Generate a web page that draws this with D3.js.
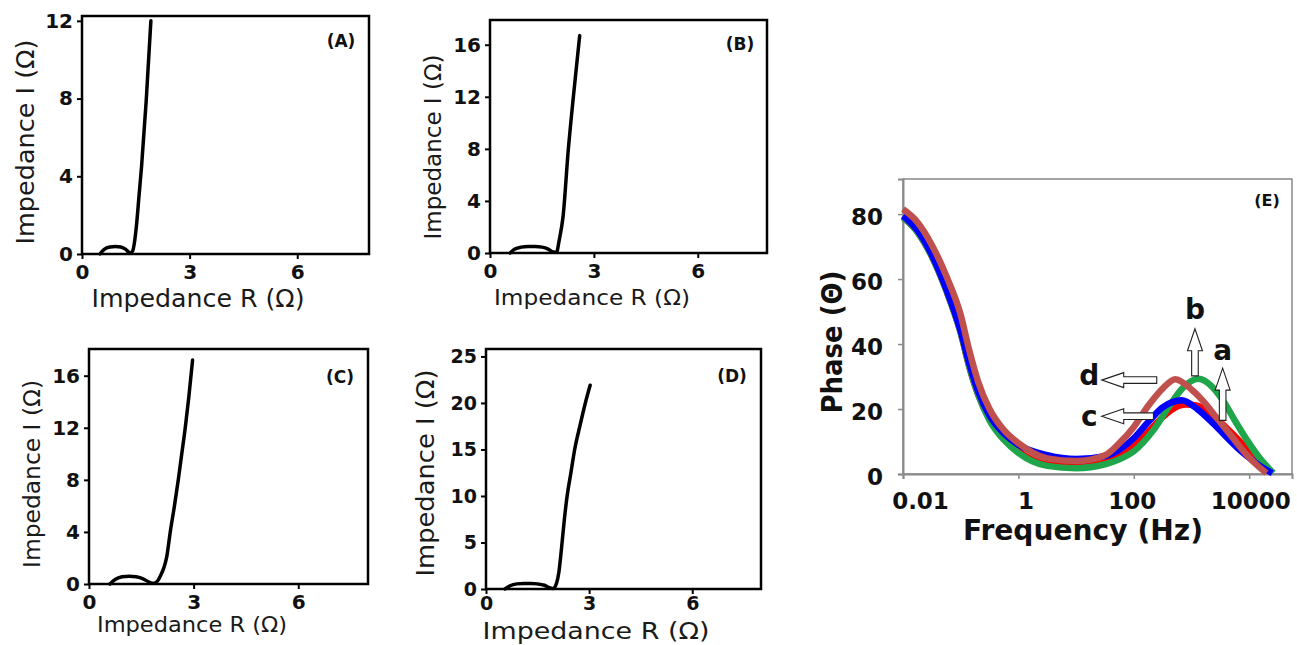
<!DOCTYPE html>
<html><head><meta charset="utf-8">
<script src="https://cdn.jsdelivr.net/npm/d3@7"></script>
<style>html,body{margin:0;padding:0;background:#fff;} svg{display:block;}</style>
</head><body>
<svg id="chart" width="1297" height="645"></svg>
<script>
// ---------------- DATA ----------------
// Nyquist panels: real part R (Ω) and imaginary part I (Ω)
const nyqA_R = [0.5, 0.62, 0.78, 0.93, 1.08, 1.22, 1.34, 1.41, 1.47, 1.52, 1.59, 1.66, 1.79, 1.92];
const nyqA_I = [0, 0.24, 0.36, 0.39, 0.36, 0.24, 0.05, 0.15, 0.7, 1.5, 3.0, 4.5, 7.9, 12.0];

const nyqB_R = [0.58, 0.72, 0.9, 1.1, 1.3, 1.5, 1.68, 1.82, 1.92, 2.0, 2.11, 2.26, 2.4, 2.59];
const nyqB_I = [0, 0.3, 0.45, 0.5, 0.5, 0.45, 0.3, 0.08, 0.05, 1.0, 2.8, 7.9, 11.8, 16.7];

const nyqC_R = [0.6, 0.75, 0.95, 1.15, 1.35, 1.55, 1.72, 1.85, 1.97, 2.06, 2.14, 2.23, 2.33, 2.45, 2.56, 2.66, 2.76, 2.86, 2.97];
const nyqC_I = [0, 0.35, 0.55, 0.6, 0.55, 0.4, 0.15, 0.05, 0.25, 0.7, 1.2, 2.1, 4.0, 6.0, 8.0, 10.0, 12.0, 14.3, 17.2];

const nyqD_R = [0.55, 0.7, 0.9, 1.1, 1.3, 1.5, 1.7, 1.85, 1.95, 2.05, 2.12, 2.2, 2.28, 2.36, 2.47, 2.58, 2.73, 2.89, 3.03];
const nyqD_I = [0, 0.35, 0.55, 0.6, 0.6, 0.55, 0.4, 0.15, 0.05, 0.6, 1.8, 4.5, 7.5, 10, 12.5, 15, 17.5, 20, 21.9];

const nyqTicksX = [0, 3, 6];
const ticksA_I = [0, 4, 8, 12];
const ticksB_I = [0, 4, 8, 12, 16];
const ticksC_I = [0, 4, 8, 12, 16];
const ticksD_I = [0, 5, 10, 15, 20, 25];

// Bode phase panel (E): frequency (Hz) and phase (Θ) for series a, b, c, d
const freqA  = [0.01, 0.0178, 0.0316, 0.0562, 0.1, 0.141, 0.2, 0.316, 0.562, 1, 3.16, 10, 31.6, 56.2, 100, 178, 316, 501, 794, 1259, 2399, 3981, 6310, 10000, 15849, 25119];
const phaseA = [79, 74.5, 67, 56.5, 43.5, 33, 24.5, 17, 11, 7, 3, 2.3, 3.6, 5.3, 8.5, 13, 17.5, 20.3, 21.4, 21, 17.8, 14.3, 10.8, 7, 3.3, 0.3];

const freqB  = [0.01, 0.0178, 0.0316, 0.0562, 0.1, 0.141, 0.2, 0.316, 0.562, 1, 3.16, 10, 31.6, 56.2, 100, 219, 398, 708, 1318, 2239, 3548, 5623, 9120, 15849, 26303];
const phaseB = [79, 74.5, 67, 56.5, 43.5, 33, 24.5, 16.5, 10.5, 6.5, 2.5, 1.8, 3.0, 4.5, 7, 13.5, 20.5, 26.5, 29.3, 27, 22.5, 16.5, 10.5, 4.5, 0.3];

const freqC  = [0.01, 0.0178, 0.0316, 0.0562, 0.1, 0.141, 0.2, 0.316, 0.562, 1, 3.16, 10, 31.6, 56.2, 100, 178, 316, 676, 1259, 2399, 3981, 6310, 10000, 15849, 25119];
const phaseC = [79.5, 75, 67.5, 57, 44, 34, 25.5, 18, 12.5, 9, 5.8, 4.6, 5.5, 7.5, 11, 16, 20.5, 22.7, 20, 15.5, 11.5, 8, 5, 2.3, 0.3];

const freqD  = [0.01, 0.0178, 0.0316, 0.0562, 0.1, 0.141, 0.2, 0.316, 0.562, 1, 3.16, 10, 31.6, 56.2, 100, 178, 316, 525, 1000, 1585, 2818, 5012, 8913, 14125, 19953];
const phaseD = [81.5, 77.5, 70.5, 61, 49, 38, 28.5, 20, 13.5, 9.5, 4.8, 4.0, 5.8, 9.5, 14.5, 21, 26.3, 29.2, 26, 22.5, 17, 11.5, 6, 2.5, 0.3];

const seriesNames = ["a", "b", "c", "d"];
const freqTicks = [0.01, 1, 100, 10000];
const freqTickLabels = ["0.01", "1", "100", "10000"];
const phaseTicks = [0, 20, 40, 60, 80];

// annotation arrows (data coordinates: frequency Hz, phase)
const arrowTips  = [[3467, 32.6], [1148, 44.7], [27.8, 17.8], [27.8, 28.9]];
const arrowTails = [[3467, 16.5], [1148, 30.2], [219, 17.8], [250, 28.9]];
const labelPos   = [[3467, 37.9], [1148, 50.6], [17, 17.5], [17, 30.2]];

// ---------------- DRAW ----------------
const svg = d3.select("#chart");
const FONT = "'DejaVu Sans', 'Liberation Sans', sans-serif";

function addText(txt, x, y, size, opts = {}) {
  const t = svg.append("text")
    .text(txt)
    .attr("font-family", FONT)
    .attr("font-size", size)
    .attr("font-weight", opts.bold ? "bold" : "normal")
    .attr("fill", opts.fill || "#111")
    .attr("text-anchor", opts.anchor || "middle");
  if (opts.rotate) {
    t.attr("transform", `translate(${x},${y}) rotate(-90)`).attr("dy", "0.35em");
  } else {
    t.attr("x", x).attr("y", y);
  }
  if (opts.len) t.attr("textLength", opts.len).attr("lengthAdjust", "spacingAndGlyphs");
  return t;
}

const nyqLayout = [
  {R: nyqA_R, I: nyqA_I, ticks: ticksA_I, yMax: 12.25, box: [82, 16, 369, 254], tag: "(A)", tagPos: [341, 47],
   xt: [198, 307, 24, 213], yt: [25, 142, 25, 205], tf: 20, tp: 6},
  {R: nyqB_R, I: nyqB_I, ticks: ticksB_I, yMax: 17.9, box: [490, 20, 767, 253], tag: "(B)", tagPos: [740, 50],
   xt: [592, 305, 22, 196], yt: [433, 147, 23, 185], tf: 20, tp: 6},
  {R: nyqC_R, I: nyqC_I, ticks: ticksC_I, yMax: 18.05, box: [89, 349, 368, 584], tag: "(C)", tagPos: [340, 383],
   xt: [192, 632, 22, 190], yt: [32, 474, 23, 188], tf: 20, tp: 6},
  {R: nyqD_R, I: nyqD_I, ticks: ticksD_I, yMax: 25.8, box: [486, 349, 761, 589], tag: "(D)", tagPos: [732, 382],
   xt: [596, 639, 23, 227], yt: [425, 473, 25, 207], tf: 19, tp: 3}
];

nyqLayout.forEach(p => {
  const [x0, y0, x1, y1] = p.box;
  const x = d3.scaleLinear().domain([0, 8]).range([x0, x1]);
  const y = d3.scaleLinear().domain([0, p.yMax]).range([y1, y0]);
  const g = svg.append("g");
  const ax = g.append("g").attr("transform", `translate(0,${y1})`)
    .call(d3.axisBottom(x).tickValues(nyqTicksX).tickSize(5).tickPadding(p.tp).tickFormat(d3.format("d")));
  const ay = g.append("g").attr("transform", `translate(${x0},0)`)
    .call(d3.axisLeft(y).tickValues(p.ticks).tickSize(5).tickPadding(4).tickFormat(d3.format("d")));
  [ax, ay].forEach(a => {
    a.select(".domain").remove();
    a.selectAll("line").attr("stroke", "#000").attr("stroke-width", 2);
    a.selectAll("text").attr("font-family", FONT).attr("font-weight", "bold")
      .attr("font-size", p.tf).attr("fill", "#111");
  });
  const pts = p.R.map((r, i) => [r, p.I[i]]);
  g.append("path").datum(pts)
    .attr("d", d3.line().x(d => x(d[0])).y(d => y(d[1])).curve(d3.curveMonotoneX))
    .attr("fill", "none").attr("stroke", "#000").attr("stroke-width", 3.5)
    .attr("stroke-linejoin", "round").attr("stroke-linecap", "round");
  g.append("rect").attr("x", x0).attr("y", y0).attr("width", x1 - x0).attr("height", y1 - y0)
    .attr("fill", "none").attr("stroke", "#000").attr("stroke-width", 2.5);
  addText(p.tag, p.tagPos[0], p.tagPos[1], 17, {bold: true});
  addText("Impedance R (Ω)", p.xt[0], p.xt[1], p.xt[2], {len: p.xt[3], fill: "#1a1a1a"});
  addText("Impedance I (Ω)", p.yt[0], p.yt[1], p.yt[2], {len: p.yt[3], rotate: true, fill: "#1a1a1a"});
});

// ---- Panel E ----
(function () {
  const x0 = 903, y0 = 179, x1 = 1292, y1 = 474;
  const x = d3.scaleLog().domain([0.01, 55200]).range([x0, x1]);
  const y = d3.scaleLinear().domain([0, 90.8]).range([y1, y0]);
  const g = svg.append("g");
  g.append("rect").attr("x", x0).attr("y", y0).attr("width", x1 - x0).attr("height", y1 - y0)
    .attr("fill", "none").attr("stroke", "#6a6a6a").attr("stroke-width", 1.2);

  const nudge = {0: 17, 1: 7, 2: -2, 3: 1};
  const ax = g.append("g").attr("transform", `translate(0,${y1})`)
    .call(d3.axisBottom(x).tickValues(freqTicks).tickSize(5).tickPadding(14)
      .tickFormat((d, i) => freqTickLabels[i]));
  const ay = g.append("g").attr("transform", `translate(${x0},0)`)
    .call(d3.axisLeft(y).tickValues(phaseTicks).tickSize(5).tickPadding(15).tickFormat(d3.format("d")));
  [ax, ay].forEach(a => {
    a.select(".domain").attr("stroke", "#8a8a8a").attr("stroke-width", 2);
    a.selectAll("line").attr("stroke", "#8a8a8a").attr("stroke-width", 1.5);
    a.selectAll("text").attr("font-family", FONT).attr("font-weight", "bold")
      .attr("font-size", 23).attr("fill", "#111");
  });
  ax.selectAll(".tick text").attr("dx", (d, i) => nudge[i]);
  ay.selectAll(".tick text").attr("dy", "0.45em");

  const colors = ["#ff0000", "#1fa64a", "#0000ff", "#c0504d"];
  const freqs = [freqA, freqB, freqC, freqD];
  const phases = [phaseA, phaseB, phaseC, phaseD];
  const line = d3.line().x(d => x(d[0])).y(d => y(d[1])).curve(d3.curveMonotoneX);
  seriesNames.forEach((nm, k) => {
    const pts = freqs[k].map((f, i) => [f, phases[k][i]]);
    g.append("path").datum(pts).attr("d", line)
      .attr("fill", "none").attr("stroke", colors[k]).attr("stroke-width", 6.5)
      .attr("stroke-linejoin", "round").attr("stroke-linecap", "butt");
  });

  seriesNames.forEach((nm, k) => {
    const tx = x(arrowTips[k][0]), ty = y(arrowTips[k][1]);
    const sx = x(arrowTails[k][0]), sy = y(arrowTails[k][1]);
    const L = Math.hypot(tx - sx, ty - sy);
    const ux = (tx - sx) / L, uy = (ty - sy) / L;
    const nx = -uy, ny = ux;
    const sw = 3.3, hw = 7.5, hl = 22;
    const bx = tx - ux * hl, by = ty - uy * hl;
    const P = [
      [sx + nx * sw, sy + ny * sw], [bx + nx * sw, by + ny * sw], [bx + nx * hw, by + ny * hw],
      [tx, ty],
      [bx - nx * hw, by - ny * hw], [bx - nx * sw, by - ny * sw], [sx - nx * sw, sy - ny * sw]
    ];
    g.append("path").attr("d", "M" + P.map(p => p.join(",")).join("L") + "Z")
      .attr("fill", "#fff").attr("stroke", "#222").attr("stroke-width", 1.1);
    const lx = x(labelPos[k][0]), ly = y(labelPos[k][1]);
    addText(nm, lx, ly + 9, 28, {bold: true});
  });

  addText("(E)", 1267, 206, 16, {bold: true});
  addText("Frequency (Hz)", 1083, 540, 28, {bold: true, len: 240});
  addText("Phase (Θ)", 832, 342, 28, {bold: true, len: 143, rotate: true});
})();
</script>
</body></html>
